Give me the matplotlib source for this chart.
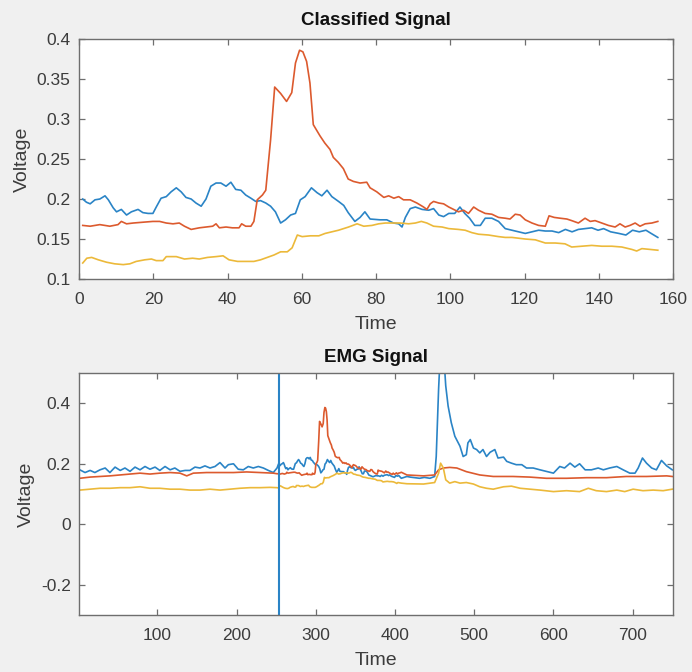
import numpy as np
import matplotlib
matplotlib.use("Agg")
import matplotlib.pyplot as plt

plt.rcParams["font.family"] = ["Liberation Sans", "DejaVu Sans"]

# Classified segment (sample index within segment)
t_blue = [1, 2, 3, 4.3, 5.6, 7, 7.9, 9.2, 10.1, 11.4, 12.8, 14.1, 15.9, 17.2, 18.6, 19.9, 20.8,
          22.1, 23.5, 24.8, 26.2, 27.5, 28.8, 30.2, 31.5, 32.9, 34.2, 35.5, 36.9, 38.2, 39.6,
          40.9, 42.2, 43.6, 44.9, 46.3, 47.6, 48.9, 50.3, 51.6, 52.9, 54.3, 55.6, 57, 58.3,
          59.6, 60.9, 62.6, 64.1, 65.4, 66.8, 68.1, 69.9, 71.3, 72.5, 74.3, 75.7, 77, 78.4,
          81.1, 82.9, 84.7, 86.1, 87, 87.9, 89.2, 90.6, 92.4, 94.2, 95.5, 96.9, 98.2, 99.6,
          101.2, 102.6, 103.9, 105.2, 106.6, 108.1, 109.4, 111.2, 113, 114.8, 116.6, 118.4,
          120.2, 122, 123.8, 125.6, 127.4, 129.2, 131, 132.8, 134.5, 136.3, 138.1, 139.8,
          141.3, 143.2, 145.4, 147.3, 149.1, 150.9, 152.7, 154.1, 155.9]
v_blue = [0.200, 0.196, 0.194, 0.199, 0.200, 0.204, 0.199, 0.189, 0.184, 0.187, 0.180, 0.184,
          0.187, 0.183, 0.182, 0.182, 0.190, 0.201, 0.203, 0.209, 0.214, 0.209, 0.202, 0.200,
          0.195, 0.191, 0.200, 0.216, 0.220, 0.220, 0.216, 0.221, 0.212, 0.211, 0.205, 0.201,
          0.197, 0.198, 0.195, 0.191, 0.184, 0.170, 0.174, 0.180, 0.182, 0.199, 0.203, 0.214,
          0.208, 0.204, 0.211, 0.203, 0.197, 0.192, 0.183, 0.172, 0.177, 0.184, 0.175, 0.174,
          0.174, 0.170, 0.169, 0.165, 0.177, 0.188, 0.190, 0.187, 0.186, 0.188, 0.180, 0.178,
          0.182, 0.182, 0.190, 0.182, 0.176, 0.167, 0.167, 0.176, 0.176, 0.172, 0.163, 0.161,
          0.159, 0.157, 0.159, 0.161, 0.160, 0.160, 0.158, 0.162, 0.159, 0.162, 0.163, 0.164,
          0.161, 0.163, 0.159, 0.157, 0.155, 0.161, 0.159, 0.161, 0.157, 0.152]

t_red = [1, 3, 5.6, 8.3, 10.5, 11.4, 12.8, 14.6, 17.2, 19.9, 21.7, 23.5, 25.3, 27, 28.4, 30.2,
         32.4, 34.2, 36, 36.9, 37.8, 39.6, 41.3, 43.1, 43.8, 44.9, 46.3, 47.1, 48, 49.4, 50.3,
         51.6, 52.7, 54.3, 55.9, 57.3, 58.3, 59.4, 60.3, 61.3, 62.2, 63.1, 64.9, 66.2, 67.6,
         68.5, 69.8, 71.2, 72.5, 73.9, 75.7, 77.5, 78.4, 80.2, 82.1, 83.4, 84.8, 86.1, 87.4,
         89.2, 91, 92.8, 93.7, 94.6, 95.5, 96.9, 98.2, 99.6, 100.9, 102.2, 103.6, 104.9, 106.3,
         107.6, 109.4, 111.2, 113, 114.8, 116.1, 117.5, 118.8, 120.2, 122, 123.8, 125.6, 126.6,
         128, 129.6, 131.4, 132.7, 134.5, 136.3, 137.7, 139, 140.8, 142.6, 144.4, 145.7, 147.1,
         148.4, 149.8, 151.1, 152.5, 154.3, 155.9]
v_red = [0.167, 0.166, 0.168, 0.166, 0.168, 0.172, 0.169, 0.170, 0.171, 0.172, 0.172, 0.170,
         0.169, 0.170, 0.166, 0.162, 0.164, 0.165, 0.166, 0.169, 0.164, 0.165, 0.164, 0.164,
         0.169, 0.166, 0.166, 0.172, 0.199, 0.205, 0.211, 0.274, 0.340, 0.332, 0.322, 0.333,
         0.370, 0.386, 0.384, 0.372, 0.345, 0.293, 0.279, 0.270, 0.262, 0.252, 0.246, 0.238,
         0.225, 0.222, 0.220, 0.221, 0.214, 0.209, 0.202, 0.204, 0.201, 0.203, 0.199, 0.199,
         0.195, 0.190, 0.187, 0.194, 0.197, 0.195, 0.194, 0.190, 0.187, 0.184, 0.186, 0.182,
         0.190, 0.186, 0.182, 0.181, 0.177, 0.176, 0.175, 0.181, 0.180, 0.174, 0.170, 0.167,
         0.166, 0.179, 0.177, 0.176, 0.175, 0.173, 0.170, 0.176, 0.172, 0.173, 0.170, 0.167,
         0.165, 0.169, 0.165, 0.167, 0.170, 0.166, 0.169, 0.170, 0.172]

t_yel = [1, 2.1, 3.4, 5.2, 7.4, 9.6, 11.9, 13.7, 15.4, 17.7, 19.5, 20.8, 22.6, 23.5, 26.2,
         28.4, 30.6, 32.4, 34.6, 36.9, 38.8, 40.4, 42.7, 44.9, 47.1, 48.9, 50.7, 52.5, 54.3,
         56.1, 57.4, 58.8, 60.1, 62.3, 64.6, 66.3, 68.1, 69.9, 72.6, 74.9, 76.7, 78.9, 80.7,
         82.5, 84.3, 86.5, 88.8, 90.6, 92.2, 93.7, 95.5, 97.8, 99.6, 102.2, 104, 105.8, 107.6,
         110.3, 113, 114.8, 116.6, 118.4, 120.2, 122.9, 125.6, 128.3, 130.9, 132.7, 135.4,
         138.1, 140.8, 143.5, 146.2, 148.9, 150.2, 151.6, 153.8, 155.9]
v_yel = [0.120, 0.126, 0.127, 0.124, 0.121, 0.119, 0.118, 0.119, 0.122, 0.124, 0.125, 0.123,
         0.123, 0.128, 0.128, 0.125, 0.126, 0.125, 0.127, 0.128, 0.129, 0.124, 0.122, 0.122,
         0.122, 0.124, 0.127, 0.130, 0.134, 0.134, 0.139, 0.155, 0.153, 0.154, 0.154, 0.157,
         0.159, 0.161, 0.165, 0.169, 0.166, 0.167, 0.169, 0.170, 0.170, 0.170, 0.169, 0.170,
         0.172, 0.170, 0.166, 0.165, 0.163, 0.162, 0.161, 0.158, 0.156, 0.155, 0.153, 0.152,
         0.152, 0.151, 0.150, 0.149, 0.145, 0.145, 0.144, 0.140, 0.141, 0.142, 0.141, 0.141,
         0.140, 0.137, 0.135, 0.138, 0.137, 0.136]

# Full EMG record: before and after the classified segment
seg_start = 253
x_pre_blue = [2, 8.6, 15, 21, 27.5, 34, 40, 46.5, 53, 59, 65.4, 71.7, 78, 84.3, 90.6, 97, 103,
              109.6, 116, 122, 128.5, 135, 141, 147.4, 153.7, 160, 166.4, 172.7, 179, 185.3,
              189.5, 196, 202, 208.4, 214.7, 221, 227.4, 233.7, 240, 246.3, 251]
v_pre_blue = [0.180, 0.171, 0.178, 0.171, 0.180, 0.186, 0.171, 0.189, 0.178, 0.186, 0.175, 0.189,
              0.180, 0.191, 0.182, 0.189, 0.178, 0.191, 0.180, 0.186, 0.175, 0.178, 0.178, 0.189,
              0.186, 0.193, 0.186, 0.191, 0.204, 0.186, 0.197, 0.200, 0.182, 0.180, 0.191, 0.186,
              0.191, 0.186, 0.178, 0.171, 0.186]
x_pre_red = [2, 15, 27.5, 40, 53, 65.4, 78, 90.6, 103, 116, 128.5, 137, 145.3, 162, 179, 196,
             212.6, 229.5, 246.3, 251]
v_pre_red = [0.152, 0.156, 0.158, 0.160, 0.163, 0.166, 0.169, 0.166, 0.169, 0.171, 0.169, 0.160,
             0.169, 0.171, 0.171, 0.171, 0.173, 0.171, 0.169, 0.167]
x_pre_yel = [2, 15, 27.5, 40, 53, 65.4, 78, 90.6, 103, 116, 128.5, 141, 153.7, 166.4, 179,
             191.6, 204, 217, 229.5, 242, 251]
v_pre_yel = [0.113, 0.116, 0.119, 0.119, 0.121, 0.121, 0.124, 0.119, 0.119, 0.116, 0.116, 0.113,
             0.113, 0.116, 0.113, 0.116, 0.119, 0.121, 0.121, 0.122, 0.121]

x_post_blue = [415, 419, 425, 431, 437, 444, 450, 452, 455, 457, 461.5, 464, 467, 471, 475.5,
               482, 486, 490, 492, 495, 499, 503, 507, 511, 515.5, 520, 526, 530, 537, 541,
               547, 553, 560, 566, 574.4, 583, 591, 600, 608, 614, 621, 627, 633, 640, 648,
               656.5, 663, 671, 680, 688, 696.4, 703, 707, 712.4, 717.5, 724, 730, 736.4, 743,
               750]
v_post_blue = [0.158, 0.156, 0.154, 0.152, 0.155, 0.152, 0.158, 0.224, 0.447, 0.560, 0.560,
               0.458, 0.391, 0.336, 0.291, 0.258, 0.224, 0.230, 0.269, 0.280, 0.252, 0.247,
               0.236, 0.247, 0.224, 0.238, 0.247, 0.219, 0.222, 0.208, 0.202, 0.197, 0.197,
               0.186, 0.186, 0.180, 0.175, 0.169, 0.191, 0.186, 0.202, 0.189, 0.200, 0.180,
               0.180, 0.186, 0.180, 0.186, 0.191, 0.180, 0.169, 0.169, 0.186, 0.219, 0.202,
               0.186, 0.180, 0.211, 0.193, 0.180]
x_post_red = [415, 436, 450, 455, 461, 469, 478, 490, 507, 524, 549, 570, 591, 616.5, 642, 667,
              692, 717.5, 743, 750]
v_post_red = [0.163, 0.160, 0.163, 0.180, 0.186, 0.188, 0.186, 0.174, 0.163, 0.158, 0.158,
              0.156, 0.152, 0.152, 0.154, 0.154, 0.158, 0.158, 0.160, 0.158]
x_post_yel = [415, 436, 450, 455, 457.5, 461, 464, 469, 475.5, 482, 490, 499, 507, 515.5, 524,
              537, 547, 558, 570, 583, 600, 616.5, 633, 644, 654, 667, 680, 690, 700.6, 713,
              726, 738.5, 750]
v_post_yel = [0.134, 0.133, 0.138, 0.169, 0.202, 0.186, 0.147, 0.136, 0.141, 0.136, 0.138,
              0.133, 0.124, 0.119, 0.116, 0.124, 0.126, 0.119, 0.116, 0.113, 0.108, 0.111,
              0.108, 0.119, 0.111, 0.108, 0.113, 0.108, 0.116, 0.111, 0.113, 0.111, 0.116]

c_blue = "#2a84c6"
c_red = "#dc5a2e"
c_yel = "#ecb93a"
txt = "#3c3c3c"
edge = "#6e6e6e"


def style(ax):
    ax.set_facecolor("white")
    for s in ax.spines.values():
        s.set_color(edge)
        s.set_linewidth(1.0)
    ax.tick_params(direction="in", length=4, width=0.9, colors=edge, labelcolor=txt,
                   labelsize=12.5, top=True, right=True)
    ax.tick_params(axis="x", pad=9)
    ax.tick_params(axis="y", pad=6)


fig = plt.figure(figsize=(6.92, 6.72), dpi=100, facecolor="#f0f0f0")

ax1 = fig.add_axes([0.1142, 0.5848, 0.8584, 0.3571])
ax1.plot(t_blue, v_blue, color=c_blue, lw=1.2)
ax1.plot(t_red, v_red, color=c_red, lw=1.2)
ax1.plot(t_yel, v_yel, color=c_yel, lw=1.2)
ax1.set_xlim(0, 160)
ax1.set_ylim(0.1, 0.4)
ax1.set_xticks(np.arange(0, 161, 20))
ax1.set_yticks([0.1, 0.15, 0.2, 0.25, 0.3, 0.35, 0.4])
ax1.set_yticklabels(["0.1", "0.15", "0.2", "0.25", "0.3", "0.35", "0.4"])
ax1.set_title("Classified Signal", fontsize=13.5, fontweight="bold", color="#111111", pad=10)
ax1.set_xlabel("Time", fontsize=14, color=txt, labelpad=7)
ax1.set_ylabel("Voltage", fontsize=14, color=txt, labelpad=4)
style(ax1)

# bottom: pre segment + classified segment + post segment
bx = np.concatenate([x_pre_blue, np.array(t_blue) + seg_start - 1, x_post_blue])
by = np.concatenate([v_pre_blue, v_blue, v_post_blue])
rx = np.concatenate([x_pre_red, np.array(t_red) + seg_start - 1, x_post_red])
ry = np.concatenate([v_pre_red, v_red, v_post_red])
yx = np.concatenate([x_pre_yel, np.array(t_yel) + seg_start - 1, x_post_yel])
yy = np.concatenate([v_pre_yel, v_yel, v_post_yel])

ax2 = fig.add_axes([0.1142, 0.0848, 0.8584, 0.3601])
ax2.plot(bx, by, color=c_blue, lw=1.2)
ax2.plot(rx, ry, color=c_red, lw=1.2)
ax2.plot(yx, yy, color=c_yel, lw=1.2)
ax2.axvline(seg_start, color=c_blue, lw=1.5)
ax2.set_xlim(1, 751)
ax2.set_ylim(-0.3, 0.5)
ax2.set_xticks(np.arange(100, 701, 100))
ax2.set_yticks([-0.2, 0, 0.2, 0.4])
ax2.set_yticklabels(["-0.2", "0", "0.2", "0.4"])
ax2.set_title("EMG Signal", fontsize=13.5, fontweight="bold", color="#111111", pad=8)
ax2.set_xlabel("Time", fontsize=14, color=txt, labelpad=7)
ax2.set_ylabel("Voltage", fontsize=14, color=txt, labelpad=4)
style(ax2)

fig.savefig("out.png", dpi=100, facecolor=fig.get_facecolor())
